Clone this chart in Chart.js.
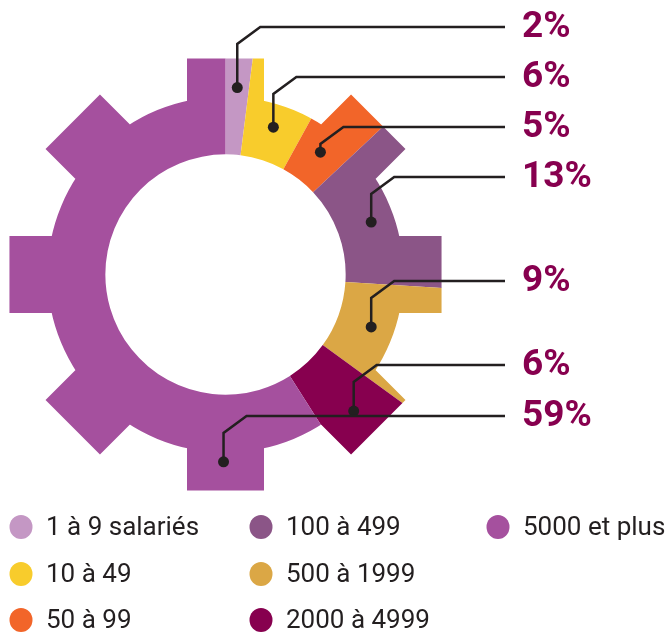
<!DOCTYPE html>
<html>
<head>
<meta charset="utf-8">
<script src="https://cdn.jsdelivr.net/npm/chart.js@4"></script>
<style>
  body { margin: 0; background: #fff; }
  canvas { display: block; }
</style>
</head>
<body>
<canvas id="GraficoEngranaje" width="667" height="632"></canvas>
<script>
// tranches de salariés et parts (%)
var categories = ['1 à 9 salariés', '10 à 49', '50 à 99', '100 à 499', '500 à 1999', '2000 à 4999', '5000 et plus'];
var shares = [2, 6, 5, 13, 9, 6, 59];
var colors = ['#C497C4', '#F8CC2C', '#F26529', '#8B5587', '#DBA745', '#87004F', '#A5509E'];

var inkColor = '#231F20';
var labelColor = '#87004F';

// proportions de l'engrenage (par rapport au rayon extérieur)
var bodyK = 0.80, tipK = 0.971, halfK = 0.173;

function gearPath(ctx, cx, cy, R) {
  var body = R * bodyK, tip = R * tipK, half = R * halfK;
  ctx.beginPath();
  ctx.arc(cx, cy, body, 0, Math.PI * 2, false);
  for (var k = 0; k < 8; k++) {
    var a = k * Math.PI / 4;
    var ux = Math.cos(a), uy = Math.sin(a), vx = -uy, vy = ux;
    var pts = [[0, -half], [tip, -half], [tip, half], [0, half]];
    pts.forEach(function(p, j) {
      var x = cx + ux * p[0] + vx * p[1];
      var y = cy + uy * p[0] + vy * p[1];
      if (j === 0) ctx.moveTo(x, y); else ctx.lineTo(x, y);
    });
    ctx.closePath();
  }
}

var gearPlugin = {
  id: 'gear',
  beforeDatasetsDraw: function(chart) {
    var arc = chart.getDatasetMeta(0).data[0];
    var ctx = chart.ctx;
    ctx.save();
    gearPath(ctx, arc.x, arc.y, arc.outerRadius);
    ctx.clip();
  },
  afterDatasetsDraw: function(chart) {
    var ctx = chart.ctx;
    ctx.restore();

    var arcs = chart.getDatasetMeta(0).data;
    var maxSpan = 33 * Math.PI / 180;
    var onTooth = 4 * Math.PI / 180;
    var dots = arcs.map(function(a) {
      var mid = (a.startAngle + a.endAngle) / 2;
      var ang = Math.min(mid, a.startAngle + maxSpan);
      // sur l'axe d'une dent : point poussé vers l'extérieur
      var fromTop = ang + Math.PI / 2;
      var step = Math.PI / 4;
      var off = Math.abs(fromTop - Math.round(fromTop / step) * step);
      var r;
      if (off < onTooth) {
        r = a.innerRadius + (a.outerRadius * tipK - a.innerRadius) * 0.7;
      } else {
        r = a.innerRadius + (a.outerRadius * bodyK - a.innerRadius) * 0.6;
      }
      return { x: a.x + Math.cos(ang) * r, y: a.y + Math.sin(ang) * r };
    });

    // placement des étiquettes sans chevauchement
    var gap = 50, minTop = 27;
    var ideal = dots.map(function(d) { return d.y - 46; });
    var groups = [];
    ideal.forEach(function(y, i) {
      groups.push({ items: [i], top: y });
      while (groups.length > 1) {
        var g1 = groups[groups.length - 2], g2 = groups[groups.length - 1];
        if (g1.top + g1.items.length * gap <= g2.top) break;
        var items = g1.items.concat(g2.items);
        var sum = 0;
        items.forEach(function(k, j) { sum += ideal[k] - j * gap; });
        groups.splice(-2, 2, { items: items, top: sum / items.length });
      }
    });
    if (groups[0].top < minTop) groups[0].top = minTop;
    var labelY = [];
    groups.forEach(function(g) {
      g.items.forEach(function(k, j) { labelY[k] = g.top + j * gap; });
    });

    var lineEnd = 505, textX = 522;
    ctx.save();
    ctx.strokeStyle = inkColor;
    ctx.fillStyle = inkColor;
    ctx.lineWidth = 2.5;
    ctx.lineJoin = 'miter';
    dots.forEach(function(d, i) {
      var ly = Math.round(labelY[i]);
      ctx.beginPath();
      ctx.moveTo(d.x, d.y);
      ctx.lineTo(d.x, ly + 17);
      ctx.lineTo(d.x + 23, ly);
      ctx.lineTo(lineEnd, ly);
      ctx.stroke();
      ctx.beginPath();
      ctx.arc(d.x, d.y, 5.5, 0, Math.PI * 2);
      ctx.fill();
    });
    ctx.fillStyle = labelColor;
    ctx.font = 'bold 37px Roboto, "DejaVu Sans", sans-serif';
    ctx.textAlign = 'left';
    ctx.textBaseline = 'middle';
    shares.forEach(function(v, i) {
      ctx.fillText(v + '%', textX, Math.round(labelY[i]) + 1);
    });
    ctx.restore();
  }
};

// légende en colonnes (3 lignes par colonne)
var legendPlugin = {
  id: 'legendColonnes',
  afterDraw: function(chart) {
    var ctx = chart.ctx;
    var colX = [21, 261, 498], rowY = [527, 574, 620];
    ctx.save();
    ctx.font = '26px Roboto, "DejaVu Sans", sans-serif';
    ctx.textAlign = 'left';
    ctx.textBaseline = 'middle';
    categories.forEach(function(label, i) {
      var cx = colX[Math.floor(i / 3)], cy = rowY[i % 3];
      ctx.fillStyle = colors[i];
      ctx.beginPath();
      ctx.ellipse(cx, cy, 11.5, 12, 0, 0, Math.PI * 2);
      ctx.fill();
      ctx.fillStyle = inkColor;
      ctx.fillText(label, cx + 25, cy + 1);
    });
    ctx.restore();
  }
};

var ctx1 = document.getElementById('GraficoEngranaje').getContext('2d');
var GraficoEngranaje = new Chart(ctx1, {
  type: 'doughnut',
  data: {
    labels: categories,
    datasets: [{
      data: shares,
      backgroundColor: colors,
      borderWidth: 0
    }]
  },
  options: {
    responsive: false,
    animation: false,
    cutout: '54%',
    layout: { padding: { left: 3, top: 52, right: 219, bottom: 135 } },
    plugins: {
      legend: { display: false },
      tooltip: { enabled: false }
    }
  },
  plugins: [gearPlugin, legendPlugin]
});
</script>
</body>
</html>
